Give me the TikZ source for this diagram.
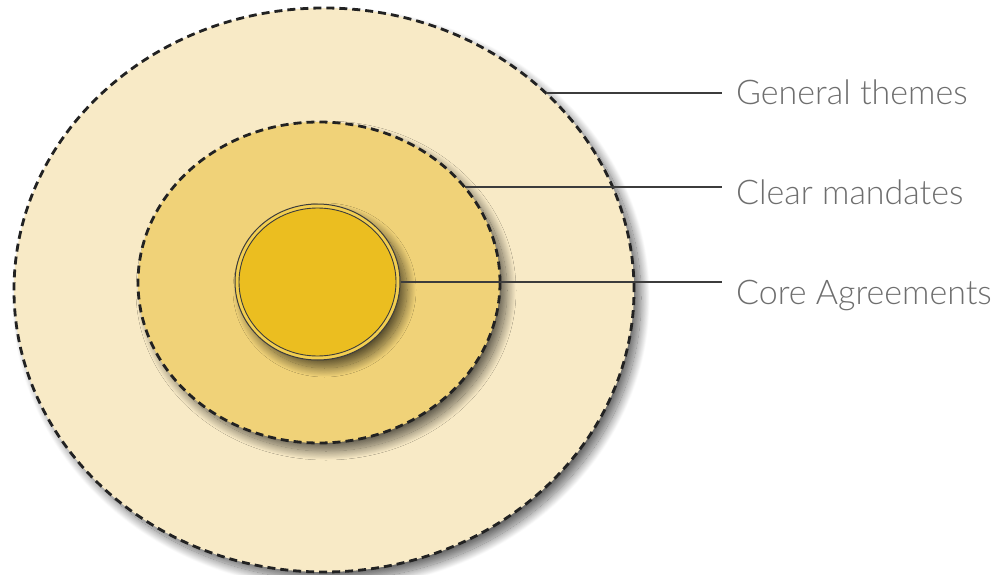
\documentclass[tikz,border=0pt]{standalone}
\usepackage{fontspec}
\setmainfont{Lato Light}
\usetikzlibrary{shapes.geometric,shadows.blur}
\definecolor{outerfill}{RGB}{248,234,198}
\definecolor{midfill}{RGB}{240,210,120}
\definecolor{corefill}{RGB}{235,190,32}
\definecolor{corering}{RGB}{242,206,80}
\definecolor{dashcol}{RGB}{34,34,34}
\definecolor{leadcol}{RGB}{60,60,60}
\definecolor{labelcol}{RGB}{110,110,110}
\tikzset{
  myshadow/.style={blur shadow={shadow xshift=7pt, shadow yshift=-8pt, shadow blur radius=9pt, shadow blur steps=24, shadow opacity=60}},
  ring/.style={ellipse, inner sep=0pt, draw=dashcol, line width=2.8pt, dash pattern=on 8pt off 5pt, myshadow},
  leader/.style={draw=leadcol, line width=1.2pt},
  label/.style={anchor=base west, inner sep=0pt, text=labelcol, font=\fontsize{34}{38}\selectfont}
}
\begin{document}
\begin{tikzpicture}[x=1pt,y=1pt]
\useasboundingbox (0,0) rectangle (1003,-575);
\node[ring, fill=outerfill, minimum width=620pt, minimum height=564pt] (outer) at (324,-290) {};
\node[ring, fill=midfill, minimum width=362pt, minimum height=321pt] (mid) at (319,-282.5) {};
\node[ellipse, inner sep=0pt, fill=corering, draw=leadcol, line width=1pt, minimum width=165pt, minimum height=156pt, myshadow] (core) at (317.5,-282) {};
\node[ellipse, inner sep=0pt, fill=corefill, draw=leadcol, line width=0.9pt, minimum width=157pt, minimum height=148pt] (corein) at (317.5,-282) {};
\node[label] (gt) at (736,-105) {General themes};
\node[label] (cm) at (736,-204) {Clear mandates};
\node[label] (ca) at (736,-304) {Core Agreements};
\coordinate (g1) at (546,-93);
\coordinate (g2) at (722,-93);
\coordinate (c1) at (464.5,-187);
\coordinate (c2) at (722,-187);
\coordinate (a2) at (722,-282);
\draw[leader] (g1) -- (g2);
\draw[leader] (c1) -- (c2);
\draw[leader] (core.east) -- (a2);
\end{tikzpicture}
\end{document}
